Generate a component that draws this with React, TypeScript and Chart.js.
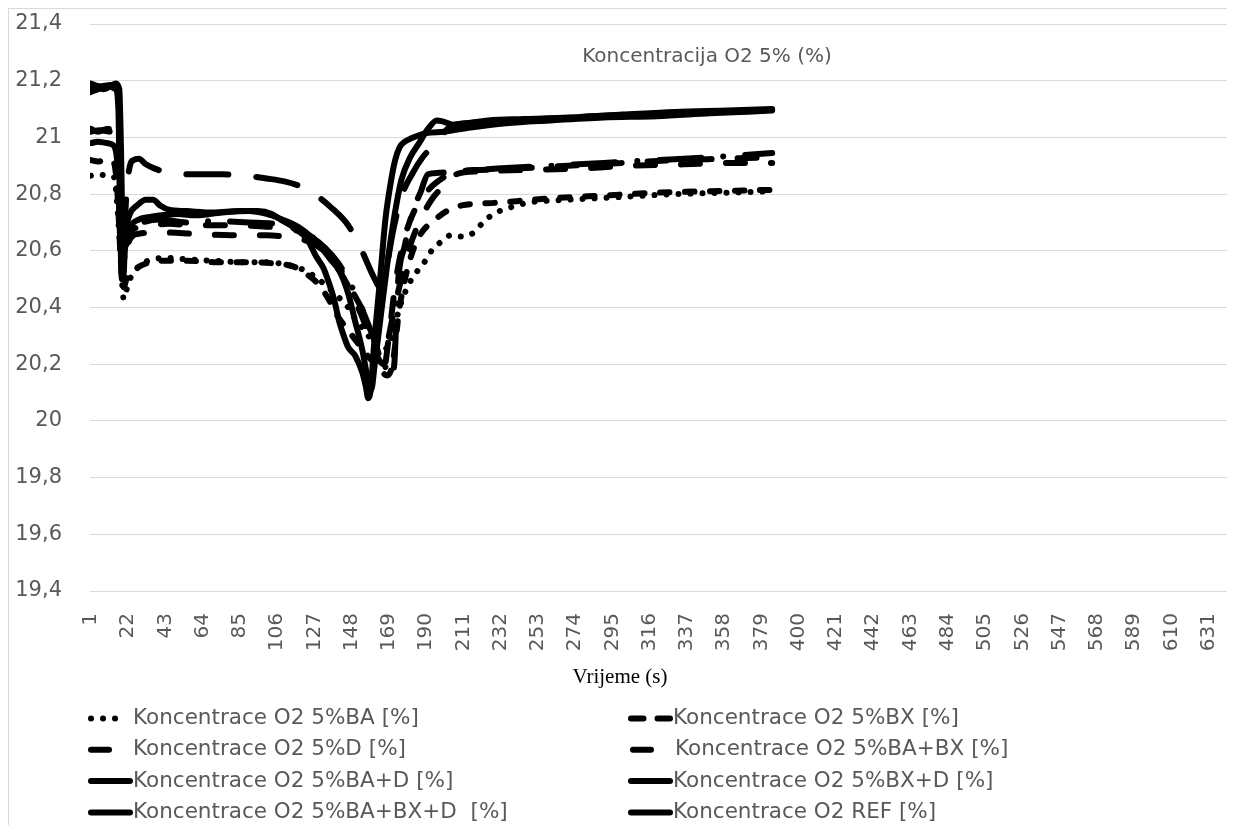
import React, { useEffect, useRef } from 'react';
import { Chart, registerables } from 'chart.js';

Chart.register(...registerables);

// ---------------- data ----------------
const N_CATEGORIES = 642;
const X_TICK_LABELS = [1, 22, 43, 64, 85, 106, 127, 148, 169, 190, 211, 232, 253, 274, 295, 316, 337, 358, 379, 400, 421, 442, 463, 484, 505, 526, 547, 568, 589, 610, 631];
const Y_MIN = 19.4;
const Y_MAX = 21.4;
const Y_STEP = 0.2;

const CHART_TITLE = 'Koncentracija O2 5% (%)';
const X_TITLE = 'Vrijeme (s)';

const SERIES_NAMES = [
  'Koncentrace O2 5%BA [%]',
  'Koncentrace O2 5%BX [%]',
  'Koncentrace O2 5%D [%]',
  'Koncentrace O2 5%BA+BX [%]',
  'Koncentrace O2 5%BA+D [%]',
  'Koncentrace O2 5%BX+D [%]',
  'Koncentrace O2 5%BA+BX+D  [%]',
  'Koncentrace O2 REF [%]',
];

// [time index, O2 %]
const BA: [number, number][] = [
  [1, 20.865], [5, 20.87], [10, 20.865], [14, 20.86], [16, 20.75], [18, 20.55], [19.5, 20.43], [21, 20.46], [23, 20.5],
  [26, 20.53], [30, 20.555], [36, 20.57], [45, 20.575], [55, 20.57], [70, 20.565], [85, 20.56], [100, 20.56], [112, 20.55],
  [120, 20.535], [127, 20.51], [133, 20.48], [140, 20.44], [146, 20.4], [150, 20.36], [155, 20.32], [160, 20.28], [165, 20.25],
  [170, 20.28], [175, 20.4], [180, 20.48], [184, 20.52], [189, 20.56], [193, 20.6], [198, 20.63], [204, 20.655], [210, 20.65],
  [217, 20.665], [222, 20.7], [228, 20.73], [236, 20.75], [248, 20.77], [270, 20.78], [300, 20.79], [330, 20.8], [360, 20.805], [385, 20.81],
];

const BX: [number, number][] = [
  [1, 20.92], [5, 20.915], [10, 20.92], [14, 20.91], [16, 20.8], [18, 20.55], [19.5, 20.47], [21, 20.5], [25, 20.53],
  [32, 20.555], [40, 20.565], [55, 20.565], [70, 20.56], [90, 20.56], [105, 20.555], [115, 20.545], [122, 20.52], [128, 20.49],
  [134, 20.44], [140, 20.37], [146, 20.32], [152, 20.27], [157, 20.23], [163, 20.19], [168, 20.16], [171, 20.2], [175, 20.4],
  [180, 20.55], [186, 20.65], [195, 20.71], [203, 20.745], [210, 20.76], [231, 20.77], [260, 20.785], [290, 20.795], [320, 20.805],
  [350, 20.81], [385, 20.815],
];

const D: [number, number][] = [
  [1, 21.02], [6, 21.025], [12, 21.02], [15, 21.0], [17, 20.8], [18.5, 20.55], [20, 20.58], [23, 20.64], [28, 20.66],
  [40, 20.665], [60, 20.66], [80, 20.655], [100, 20.655], [110, 20.65], [120, 20.64], [128, 20.62], [135, 20.58], [142, 20.52],
  [148, 20.45], [153, 20.38], [158, 20.3], [163, 20.22], [166, 20.2], [169, 20.3], [174, 20.45], [180, 20.6], [186, 20.7],
  [193, 20.78], [200, 20.83], [207, 20.87], [220, 20.88], [245, 20.885], [275, 20.89], [305, 20.9], [335, 20.905], [360, 20.91], [385, 20.91],
];

const BA_BX: [number, number][] = [
  [1, 21.03], [5, 21.02], [10, 21.03], [14, 21.02], [16, 20.95], [17.5, 20.7], [19, 20.55], [21, 20.62], [24, 20.67],
  [30, 20.685], [45, 20.695], [60, 20.69], [80, 20.69], [100, 20.685], [112, 20.68], [122, 20.66], [130, 20.63], [137, 20.58],
  [143, 20.52], [149, 20.45], [155, 20.38], [160, 20.3], [164, 20.22], [166, 20.18], [169, 20.3], [173, 20.5], [178, 20.65],
  [184, 20.75], [192, 20.82], [200, 20.86], [206, 20.88], [220, 20.885], [240, 20.89], [270, 20.9], [300, 20.91], [330, 20.92],
  [360, 20.925], [385, 20.93],
];

const BA_D: [number, number][] = [
  [1, 20.98], [5, 20.985], [10, 20.98], [14, 20.97], [16, 20.9], [18, 20.6], [19.5, 20.62], [21, 20.8], [23, 20.9],
  [25, 20.92], [28, 20.925], [32, 20.905], [37, 20.89], [45, 20.875], [60, 20.87], [75, 20.87], [88, 20.865], [100, 20.855],
  [110, 20.845], [118, 20.83], [127, 20.8], [136, 20.755], [146, 20.69], [153, 20.61], [161, 20.5], [164, 20.47], [167, 20.52],
  [171, 20.66], [176, 20.79], [182, 20.87], [188, 20.93], [194, 20.97], [198, 21.0], [204, 21.04], [215, 21.05], [240, 21.06],
  [270, 21.07], [300, 21.08], [330, 21.085], [360, 21.09], [385, 21.095],
];

const BX_D: [number, number][] = [
  [1, 21.19], [6, 21.18], [12, 21.185], [16, 21.17], [17, 21.0], [18, 20.6], [19, 20.55], [21, 20.63], [24, 20.68],
  [30, 20.7], [40, 20.71], [55, 20.7], [70, 20.705], [90, 20.7], [105, 20.695], [115, 20.68], [125, 20.65], [133, 20.61],
  [140, 20.56], [146, 20.5], [152, 20.42], [158, 20.33], [163, 20.25], [167, 20.19], [170, 20.155], [172, 20.2], [174, 20.48],
  [178, 20.62], [182, 20.73], [187, 20.81], [191, 20.87], [197, 20.875], [207, 20.88], [230, 20.89], [260, 20.9], [290, 20.91],
  [320, 20.92], [350, 20.93], [385, 20.945],
];

const BA_BX_D: [number, number][] = [
  [1, 21.16], [5, 21.17], [10, 21.18], [15, 21.17], [16.5, 21.1], [17.5, 20.7], [18.5, 20.5], [20, 20.6], [23, 20.68],
  [28, 20.71], [35, 20.72], [50, 20.73], [60, 20.725], [75, 20.735], [90, 20.74], [100, 20.73], [107, 20.715], [118, 20.684],
  [125, 20.65], [131, 20.61], [136, 20.57], [141, 20.53], [146, 20.45], [150, 20.35], [154, 20.25], [157, 20.15], [159, 20.11],
  [161, 20.2], [164, 20.35], [168, 20.55], [172, 20.72], [176, 20.85], [181, 20.93], [186, 20.98], [191, 21.03], [196, 21.06],
  [200, 21.055], [205, 21.045], [212, 21.05], [225, 21.06], [245, 21.065], [270, 21.07], [300, 21.08], [330, 21.09], [360, 21.095], [385, 21.1],
];

const REF: [number, number][] = [
  [1, 21.17], [4, 21.18], [8, 21.17], [12, 21.18], [15, 21.19], [17, 21.17], [18, 20.95], [19, 20.6], [19.5, 20.52],
  [20, 20.6], [21, 20.68], [23, 20.73], [27, 20.76], [32, 20.78], [36, 20.78], [40, 20.76], [45, 20.745], [55, 20.74],
  [70, 20.735], [85, 20.74], [95, 20.74], [103, 20.73], [108, 20.71], [116, 20.68], [123, 20.64], [128, 20.58], [132, 20.54],
  [135, 20.49], [138, 20.43], [141, 20.35], [143, 20.31], [146, 20.26], [150, 20.23], [154, 20.17], [156, 20.12], [157.3, 20.08],
  [158.5, 20.1], [161, 20.3], [164, 20.5], [167, 20.71], [170, 20.84], [172.5, 20.92], [175, 20.965], [178, 20.985], [181, 20.995],
  [190, 21.015], [200, 21.02], [215, 21.035], [235, 21.05], [260, 21.06], [290, 21.07], [320, 21.075], [350, 21.085], [385, 21.095],
];

const SERIES_DATA = [BA, BX, D, BA_BX, BA_D, BX_D, BA_BX_D, REF];

// ---------------- styles ----------------
const LINE_WIDTH = 6;
const LINE_DASHES: number[][] = [
  [0.01, 12],
  [9.5, 15.5],
  [19, 26],
  [19, 26],
  [42, 28],
  [42, 22, 0.01, 22],
  [],
  [],
];
const LEGEND_SAMPLES: { dash: number[]; len: number; shift: number }[] = [
  { dash: [0.01, 12], len: 25, shift: 0 },
  { dash: [12.5, 14], len: 39, shift: 0 },
  { dash: [], len: 18, shift: 0 },
  { dash: [], len: 18, shift: 2 },
  { dash: [], len: 39, shift: 0 },
  { dash: [], len: 39, shift: 0 },
  { dash: [], len: 39, shift: 0 },
  { dash: [], len: 39, shift: 0 },
];
const TEXT_GRAY = '#595959';
const GRID_GRAY = '#d9d9d9';
const SANS = '"DejaVu Sans", "Open Sans", sans-serif';

const CANVAS_W = 1223;
const CANVAS_H = 828;

const fmtY = (v: number) => {
  const s = Number(v.toFixed(1)).toString();
  return s.replace('.', ',');
};

const overlayPlugin = {
  id: 'overlayText',
  afterDraw(chart: any) {
    const ctx = chart.ctx as CanvasRenderingContext2D;
    ctx.save();
    // chart title inside the plot
    ctx.fillStyle = TEXT_GRAY;
    ctx.font = `20px ${SANS}`;
    ctx.textAlign = 'center';
    ctx.textBaseline = 'middle';
    ctx.fillText(CHART_TITLE, 698, 48);
    // x axis title
    ctx.fillStyle = '#000';
    ctx.font = '21px "Liberation Serif", "Times New Roman", serif';
    ctx.fillText(X_TITLE, 611, 668);
    // legend
    chart.data.datasets.forEach((ds: any, i: number) => {
      const col = i % 2;
      const row = Math.floor(i / 2);
      const x0 = col === 0 ? 79 : 619;
      const y = 709.5 + row * 31.3;
      const s = LEGEND_SAMPLES[i];
      ctx.strokeStyle = '#000';
      ctx.lineWidth = LINE_WIDTH;
      ctx.lineCap = 'round';
      ctx.setLineDash(s.dash);
      ctx.beginPath();
      ctx.moveTo(x0 + 3 + s.shift, y);
      ctx.lineTo(x0 + 3 + s.shift + s.len, y);
      ctx.stroke();
      ctx.setLineDash([]);
      ctx.fillStyle = TEXT_GRAY;
      ctx.font = `21.5px ${SANS}`;
      ctx.textAlign = 'left';
      ctx.textBaseline = 'middle';
      ctx.fillText(ds.label, x0 + 45 + s.shift, y);
    });
    ctx.restore();
  },
};

export default function App() {
  const canvasRef = useRef<HTMLCanvasElement | null>(null);

  useEffect(() => {
    document.documentElement.style.overflow = 'hidden';
    const canvas = canvasRef.current;
    if (!canvas) return;
    const chart = new Chart(canvas, {
      type: 'line',
      data: {
        datasets: SERIES_DATA.map((d, i) => ({
          label: SERIES_NAMES[i],
          data: d,
          borderColor: '#000',
          backgroundColor: '#000',
          borderWidth: LINE_WIDTH,
          borderDash: LINE_DASHES[i],
          borderCapStyle: 'round',
          borderJoinStyle: 'round',
          pointRadius: 0,
          fill: false,
          cubicInterpolationMode: 'monotone',
        })),
      },
      options: {
        responsive: false,
        animation: false,
        events: [],
        layout: { padding: { top: 15, right: 3, bottom: 0, left: 0 } },
        plugins: {
          legend: { display: false },
          title: { display: false },
          tooltip: { enabled: false },
        },
        scales: {
          x: {
            type: 'linear',
            min: 0.5,
            max: N_CATEGORIES + 0.5,
            grid: { display: false, drawTicks: false },
            border: { display: false },
            afterBuildTicks: (axis: any) => {
              axis.ticks = X_TICK_LABELS.map((v) => ({ value: v }));
            },
            afterFit: (scale: any) => {
              scale.height = CANVAS_H - 582;
              scale.paddingLeft = 0;
              scale.paddingRight = 0;
            },
            ticks: {
              autoSkip: false,
              minRotation: 90,
              maxRotation: 90,
              padding: 22,
              color: TEXT_GRAY,
              font: { family: SANS, size: 20 },
              callback: (v: any) => String(v),
            },
          },
          y: {
            type: 'linear',
            min: Y_MIN,
            max: Y_MAX,
            grid: { color: GRID_GRAY, lineWidth: 1, drawTicks: false },
            border: { display: false },
            afterFit: (scale: any) => {
              scale.width = 81;
              scale.paddingTop = 0;
              scale.paddingBottom = 0;
            },
            ticks: {
              stepSize: Y_STEP,
              padding: 28,
              color: TEXT_GRAY,
              font: { family: SANS, size: 21 },
              callback: (v: any) => fmtY(Number(v)),
            },
          },
        },
      },
      plugins: [overlayPlugin],
    } as any);
    return () => chart.destroy();
  }, []);

  return (
    <div style={{ width: CANVAS_W, height: CANVAS_H, border: `1px solid ${GRID_GRAY}` }}>
      <canvas ref={canvasRef} width={CANVAS_W} height={CANVAS_H} style={{ display: 'block' }} />
    </div>
  );
}
